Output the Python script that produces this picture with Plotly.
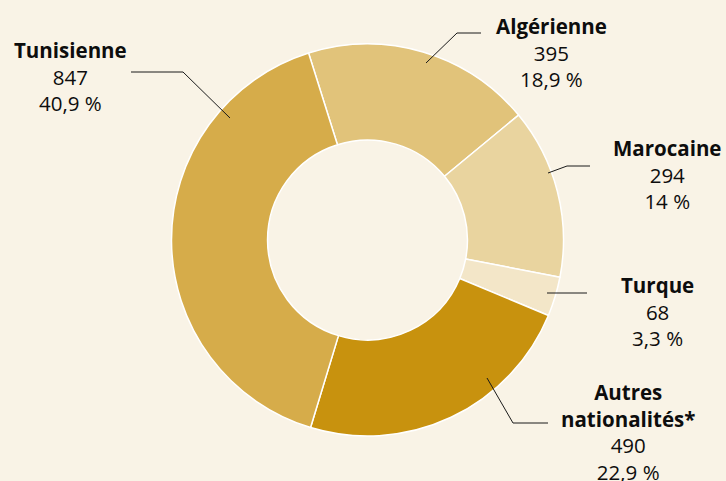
import plotly.graph_objects as go

# Data: nationality breakdown
categories = ["Algérienne", "Marocaine", "Turque", "Autres<br>nationalités*", "Tunisienne"]
counts = [395, 294, 68, 490, 847]
pct_labels = ["18,9 %", "14 %", "3,3 %", "22,9 %", "40,9 %"]
colors = ["#E1C37A", "#E9D49F", "#F3E6C8", "#C8920E", "#D6AC4A"]

W, H = 726, 481
BG = "#F9F3E6"

# Label layout: text centre (px) and leader line polyline (px), per category
label_pos = [(551, 52), (667, 174), (657, 311), (628, 432), (70, 77)]
leaders = [
    [(426, 63), (457, 33), (481, 33)],
    [(548, 173), (567, 166), (590, 166)],
    [(547, 293), (587, 293)],
    [(487, 378), (513, 423), (548, 423)],
    [(131, 72), (183, 72), (230, 118)],
]

cx, cy, r = 367.5, 240, 196

fig = go.Figure(
    go.Pie(
        labels=categories,
        values=counts,
        sort=False,
        direction="clockwise",
        rotation=-17.5,
        hole=0.51,
        textinfo="none",
        hoverinfo="label+value",
        marker=dict(colors=colors, line=dict(color="white", width=1.5)),
        domain=dict(x=[(cx - r) / W, (cx + r) / W], y=[(H - cy - r) / H, (H - cy + r) / H]),
        showlegend=False,
    )
)

def px(x):
    return x / W

def py(y):
    return 1 - y / H

shapes = []
for pts in leaders:
    path = "M " + " L ".join(f"{px(x)},{py(y)}" for x, y in pts)
    shapes.append(dict(type="path", path=path, xref="paper", yref="paper",
                       line=dict(color="#1a1a1a", width=1)))

annotations = []
for name, n, p, (x, y) in zip(categories, counts, pct_labels, label_pos):
    annotations.append(dict(
        x=px(x), y=py(y), xref="paper", yref="paper",
        xanchor="center", yanchor="middle", showarrow=False, align="center",
        text=f"<b>{name}</b><br>{n}<br>{p}",
        font=dict(family="Open Sans", size=20.5, color="#0d0d0d"),
    ))

fig.update_layout(
    width=W, height=H,
    margin=dict(l=0, r=0, t=0, b=0),
    paper_bgcolor=BG, plot_bgcolor=BG,
    shapes=shapes, annotations=annotations,
)

fig.write_html("out.html")
